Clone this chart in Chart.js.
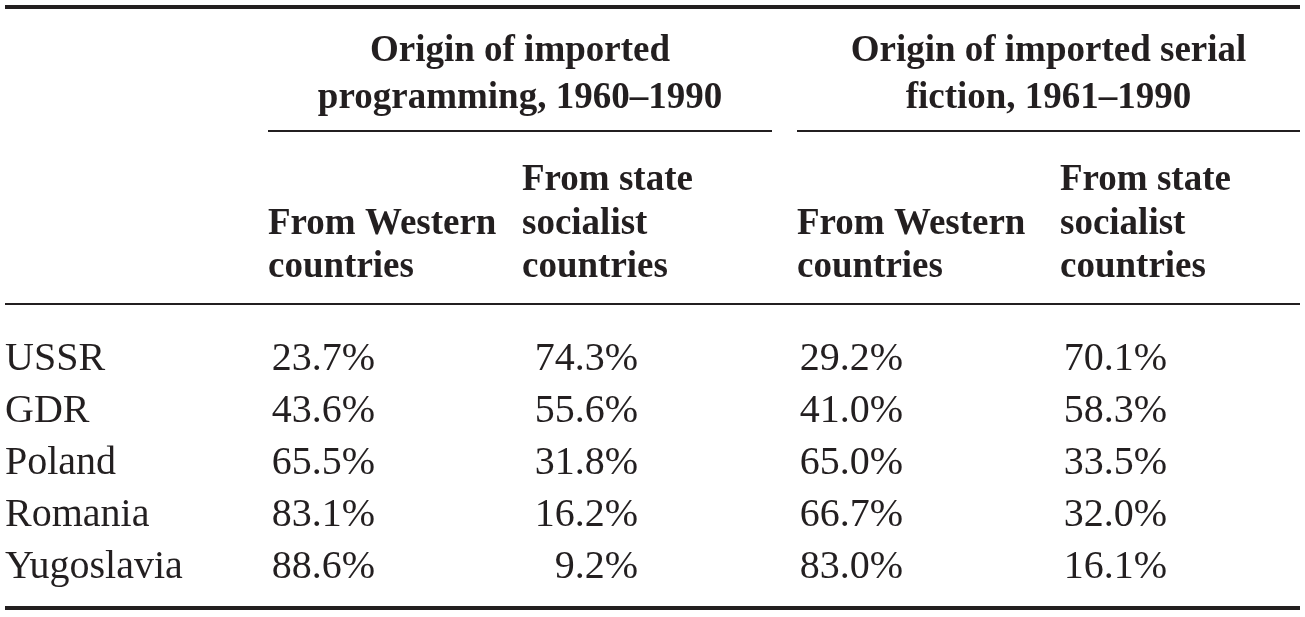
<!DOCTYPE html>
<html>
<head>
<meta charset="utf-8">
<script src="https://cdn.jsdelivr.net/npm/chart.js@4"></script>
<style>
  body { margin: 0; background: #fff; }
  #wrap { width: 1305px; height: 617px; }
</style>
</head>
<body>
<div id="wrap"><canvas id="table"></canvas></div>
<script>
/* data */
var countries = ["USSR", "GDR", "Poland", "Romania", "Yugoslavia"];
var groupTitles = [
    ["Origin of imported", "programming, 1960–1990"],
    ["Origin of imported serial", "fiction, 1961–1990"]
];
var columnTitles = [
    ["From Western", "countries"],
    ["From state", "socialist", "countries"],
    ["From Western", "countries"],
    ["From state", "socialist", "countries"]
];
var progWestern = [23.7, 43.6, 65.5, 83.1, 88.6];
var progSocialist = [74.3, 55.6, 31.8, 16.2, 9.2];
var serialWestern = [29.2, 41.0, 65.0, 66.7, 83.0];
var serialSocialist = [70.1, 58.3, 33.5, 32.0, 16.1];

var columns = ["pw", "ps", "sw", "ss"];
var series = [progWestern, progSocialist, serialWestern, serialSocialist];

/* look */
var ink = "#231f20";
var bodyFont = "40px 'Liberation Serif'";
var headFont = "bold 37px 'Liberation Serif'";
var colNudge = [0, -4, 13, 18];      // left edge of each column vs its band
var numRight = [107, 116, 106, 107]; // right edge of the figures from column left
var groupGap = 25;

function colLeft(chart, i) {
    var x = chart.scales.x;
    var band = x.width / columns.length;
    return x.getPixelForValue(i) - band / 2 + colNudge[i];
}

function rule(ctx, x1, x2, y, w) {
    ctx.beginPath();
    ctx.lineWidth = w;
    ctx.moveTo(x1, y);
    ctx.lineTo(x2, y);
    ctx.stroke();
}

var tablePlugin = {
    id: "tableText",
    afterDraw: function (chart) {
        var ctx = chart.ctx;
        var area = chart.chartArea;
        var left = chart.scales.y.left;
        ctx.save();
        ctx.strokeStyle = ink;
        ctx.fillStyle = ink;

        // rules
        rule(ctx, left, area.right, 7, 4);
        rule(ctx, left, area.right, 304, 2);
        rule(ctx, left, area.right, 608, 4);

        // group headings
        ctx.font = headFont;
        ctx.textBaseline = "alphabetic";
        ctx.textAlign = "center";
        groupTitles.forEach(function (lines, g) {
            var x1 = colLeft(chart, g * 2);
            var x2 = g < groupTitles.length - 1 ? colLeft(chart, g * 2 + 2) - groupGap : area.right;
            lines.forEach(function (t, k) {
                ctx.fillText(t, (x1 + x2) / 2, 61 + k * 47);
            });
            rule(ctx, x1, x2, 131, 2);
        });

        // column headings, bottom aligned
        ctx.textAlign = "left";
        columnTitles.forEach(function (lines, i) {
            var x = colLeft(chart, i);
            var n = lines.length;
            lines.forEach(function (t, k) {
                ctx.fillText(t, x, 277 - (n - 1 - k) * 43.5);
            });
        });

        // figures
        ctx.font = bodyFont;
        ctx.textAlign = "right";
        ctx.textBaseline = "middle";
        chart.data.datasets.forEach(function (ds, i) {
            var meta = chart.getDatasetMeta(i);
            meta.data.forEach(function (pt, j) {
                ctx.fillText(ds.values[j].toFixed(1) + "%", colLeft(chart, i) + numRight[i], pt.y);
            });
        });
        ctx.restore();
    }
};

var myTable = new Chart(document.getElementById("table"), {
    type: "line",
    data: {
        datasets: columns.map(function (c, i) {
            return {
                label: c,
                values: series[i],
                data: countries.map(function (name) { return { x: c, y: name }; }),
                showLine: false,
                pointRadius: 0
            };
        })
    },
    options: {
        responsive: true,
        maintainAspectRatio: false,
        animation: false,
        events: [],
        layout: {
            padding: { top: 334, bottom: 16, left: 5, right: 5 }
        },
        plugins: {
            legend: { display: false },
            tooltip: { enabled: false }
        },
        scales: {
            x: {
                type: "category",
                labels: columns,
                offset: true,
                display: false
            },
            y: {
                type: "category",
                labels: countries,
                offset: true,
                grid: { display: false },
                border: { display: false },
                afterFit: function (scale) { scale.width = 263; },
                ticks: {
                    crossAlign: "far",
                    padding: 0,
                    color: ink,
                    font: { family: "'Liberation Serif'", size: 40 }
                }
            }
        }
    },
    plugins: [tablePlugin]
});
</script>
</body>
</html>
